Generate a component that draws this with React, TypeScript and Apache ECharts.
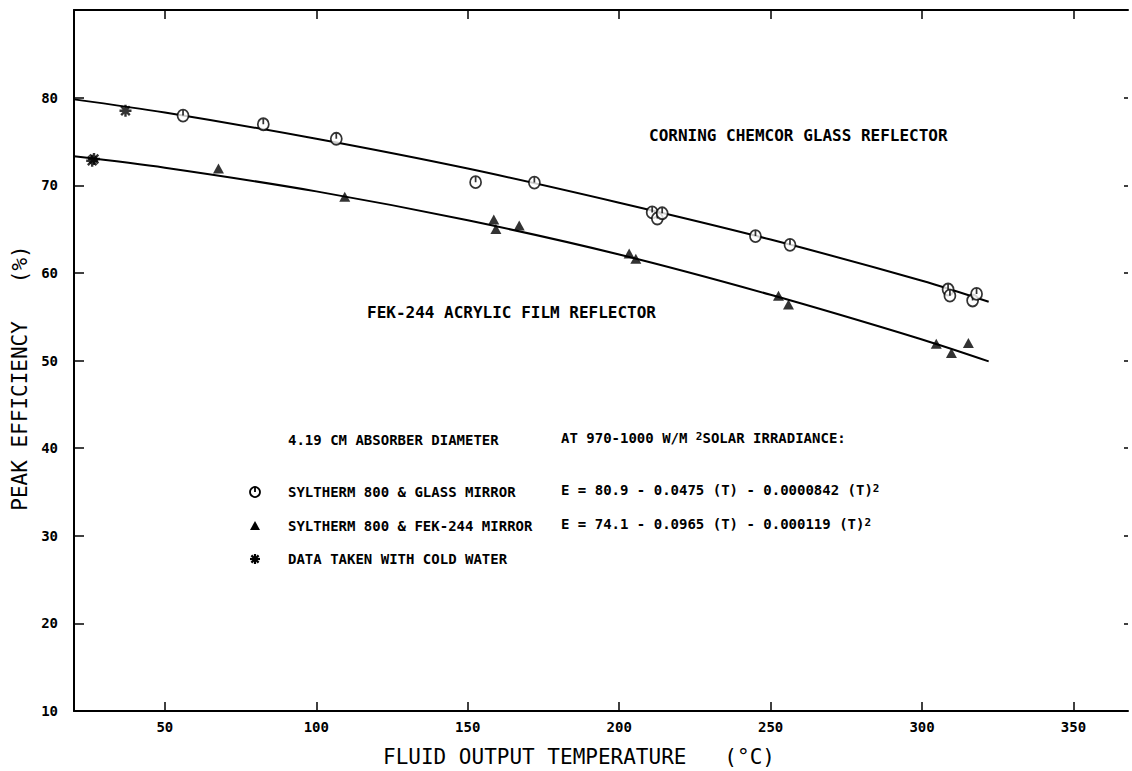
import React, { useEffect, useRef } from "react";
import * as echarts from "echarts";

// Tick values
const xTicks = [50, 100, 150, 200, 250, 300, 350];
const yTickLabels = [10, 20, 30, 40, 50, 60, 70, 80];
const yTickMarks = [20, 30, 40, 50, 60, 70, 80];

// Syltherm 800 & glass mirror (circles)
const glassT = [56, 82.5, 106.6, 152.6, 172, 210.9, 212.6, 214.2, 245, 256.4, 308.6, 309.2, 316.7, 318];
const glassE = [77.95, 76.96, 75.3, 70.35, 70.3, 66.9, 66.2, 66.8, 64.2, 63.2, 58.1, 57.4, 56.85, 57.6];

// Syltherm 800 & FEK-244 mirror (triangles)
const fekT = [67.7, 109.4, 158.6, 159.3, 167, 203.3, 205.5, 252.6, 255.9, 304.7, 309.7, 315.3];
const fekE = [71.9, 68.7, 66.1, 65.0, 65.4, 62.2, 61.6, 57.4, 56.4, 51.9, 50.85, 52.0];

// Data taken with cold water (asterisks)
const coldT = [37, 26, 26.6];
const coldE = [78.5, 72.8, 73.0];

// Fitted curves
const glassCurveT = [20, 50, 100, 150, 200, 250, 300, 322];
const glassCurveE = [79.8, 78.3, 75.3, 71.9, 68.0, 63.8, 59.1, 56.7];
const fekCurveT = [20, 50, 100, 150, 200, 250, 300, 322];
const fekCurveE = [73.3, 72.0, 69.3, 66.0, 62.1, 57.5, 52.4, 49.9];

const zip = (a: number[], b: number[]) => a.map((v, i) => [v, b[i]]);

export default function App() {
  const ref = useRef<HTMLDivElement>(null);
  useEffect(() => {
    const chart = echarts.init(ref.current!, null, { renderer: "svg" });
    const mono = "'DejaVu Sans Mono', 'Liberation Mono', monospace";
    const black = "#000";
    const small = { fontFamily: mono, fontWeight: "bold", fontSize: 14, fill: black };
    const rich = {
      n: { fontFamily: mono, fontWeight: "bold", fontSize: 14, lineHeight: 14, verticalAlign: "bottom", color: black },
      sup: { fontFamily: mono, fontWeight: "bold", fontSize: 11, lineHeight: 10, verticalAlign: "top", color: black },
    };
    const legX = 255;
    const rowY = [440, 492, 526, 559];
    const col2 = 561;
    chart.setOption({
      animation: false,
      backgroundColor: "#fff",
      grid: { left: 74, right: 4, top: 10, bottom: 60, containLabel: false },
      xAxis: [
        {
          type: "value", min: 20, max: 368, position: "bottom",
          axisLine: { show: true, onZero: false, lineStyle: { color: black, width: 2 } },
          axisTick: { show: true, inside: true, length: 9, customValues: xTicks, lineStyle: { color: black, width: 1.5 } },
          axisLabel: { customValues: xTicks, color: black, fontFamily: mono, fontWeight: "bold", fontSize: 14, margin: 9 },
          splitLine: { show: false },
        },
        {
          type: "value", min: 20, max: 368, position: "top",
          axisLine: { show: true, onZero: false, lineStyle: { color: black, width: 2 } },
          axisTick: { show: true, inside: true, length: 9, customValues: xTicks, lineStyle: { color: black, width: 1.5 } },
          axisLabel: { show: false },
          splitLine: { show: false },
        },
      ],
      yAxis: [
        {
          type: "value", min: 10, max: 90, interval: 10, position: "left",
          axisLine: { show: true, onZero: false, lineStyle: { color: black, width: 2 } },
          axisTick: { show: true, inside: true, length: 10, customValues: yTickMarks, lineStyle: { color: black, width: 1.5 } },
          axisLabel: { customValues: yTickLabels, color: black, fontFamily: mono, fontWeight: "bold", fontSize: 14, margin: 16 },
          splitLine: { show: false },
        },
        {
          type: "value", min: 10, max: 90, interval: 10, position: "right",
          axisLine: { show: false },
          axisTick: { show: true, inside: true, length: 4, customValues: yTickMarks, lineStyle: { color: black, width: 1.5 } },
          axisLabel: { show: false },
          splitLine: { show: false },
        },
      ],
      series: [
        {
          type: "line", data: zip(glassCurveT, glassCurveE), smooth: 0.3, symbol: "none",
          lineStyle: { color: black, width: 2 }, z: 2,
        },
        {
          type: "line", data: zip(fekCurveT, fekCurveE), smooth: 0.3, symbol: "none",
          lineStyle: { color: black, width: 2 }, z: 2,
        },
        {
          type: "scatter", data: zip(glassT, glassE),
          symbol: "path://M5,0 A5,5 0 1,1 -5,0 A5,5 0 1,1 5,0 Z M0,-5 L0,0",
          symbolSize: [11, 12],
          itemStyle: { color: "#fff", borderColor: black, borderWidth: 1.8 }, z: 3,
        },
        {
          type: "scatter", data: zip(fekT, fekE), symbol: "triangle", symbolSize: [11, 10],
          itemStyle: { color: black }, z: 3,
        },
        {
          type: "scatter", data: zip(coldT, coldE),
          symbol: "path://M-5,0L5,0M0,-5L0,5M-3.6,-3.6L3.6,3.6M-3.6,3.6L3.6,-3.6",
          symbolSize: 12,
          itemStyle: { color: black, borderColor: black, borderWidth: 2.4 }, z: 4,
        },
      ],
      graphic: [
        {
          type: "text", x: 649, y: 135,
          style: { text: "CORNING CHEMCOR GLASS REFLECTOR", fontFamily: mono, fontWeight: "bold", fontSize: 16, fill: black, textVerticalAlign: "middle" },
        },
        {
          type: "text", x: 367, y: 312,
          style: { text: "FEK-244 ACRYLIC FILM REFLECTOR", fontFamily: mono, fontWeight: "bold", fontSize: 16, fill: black, textVerticalAlign: "middle" },
        },
        {
          type: "text", x: 288, y: rowY[0],
          style: { ...small, text: "4.19 CM ABSORBER DIAMETER", textVerticalAlign: "middle" },
        },
        {
          type: "text", x: col2, y: rowY[0] - 9,
          style: { text: "{n|AT 970-1000 W/M }{sup|2}{n|SOLAR IRRADIANCE:}", rich, textVerticalAlign: "top" },
        },
        {
          type: "text", x: 288, y: rowY[1],
          style: { ...small, text: "SYLTHERM 800 & GLASS MIRROR", textVerticalAlign: "middle" },
        },
        {
          type: "text", x: col2, y: rowY[1] - 9,
          style: { text: "{n|E = 80.9 - 0.0475 (T) - 0.0000842 (T)}{sup|2}", rich, textVerticalAlign: "top" },
        },
        {
          type: "text", x: 288, y: rowY[2],
          style: { ...small, text: "SYLTHERM 800 & FEK-244 MIRROR", textVerticalAlign: "middle" },
        },
        {
          type: "text", x: col2, y: rowY[2] - 9,
          style: { text: "{n|E = 74.1 - 0.0965 (T) - 0.000119 (T)}{sup|2}", rich, textVerticalAlign: "top" },
        },
        {
          type: "text", x: 288, y: rowY[3],
          style: { ...small, text: "DATA TAKEN WITH COLD WATER", textVerticalAlign: "middle" },
        },
        // legend markers
        { type: "circle", shape: { cx: legX, cy: rowY[1], r: 5 }, style: { fill: "#fff", stroke: black, lineWidth: 1.8 } },
        { type: "line", shape: { x1: legX, y1: rowY[1] - 5, x2: legX, y2: rowY[1] }, style: { stroke: black, lineWidth: 1.8 } },
        { type: "polygon", shape: { points: [[legX - 5, rowY[2] + 4], [legX + 5, rowY[2] + 4], [legX, rowY[2] - 5]] }, style: { fill: black } },
        {
          type: "group",
          children: [
            { type: "line", shape: { x1: legX - 5, y1: rowY[3], x2: legX + 5, y2: rowY[3] }, style: { stroke: black, lineWidth: 2.2 } },
            { type: "line", shape: { x1: legX, y1: rowY[3] - 5, x2: legX, y2: rowY[3] + 5 }, style: { stroke: black, lineWidth: 2.2 } },
            { type: "line", shape: { x1: legX - 3.6, y1: rowY[3] - 3.6, x2: legX + 3.6, y2: rowY[3] + 3.6 }, style: { stroke: black, lineWidth: 2.2 } },
            { type: "line", shape: { x1: legX - 3.6, y1: rowY[3] + 3.6, x2: legX + 3.6, y2: rowY[3] - 3.6 }, style: { stroke: black, lineWidth: 2.2 } },
          ],
        },
        // axis titles
        {
          type: "text", x: 383, y: 757,
          style: { text: "FLUID OUTPUT TEMPERATURE   (°C)", fontFamily: mono, fontSize: 21, fill: black, textVerticalAlign: "middle" },
        },
        {
          type: "text", x: 20, y: 378, rotation: Math.PI / 2,
          style: { text: "PEAK EFFICIENCY   (%)", fontFamily: mono, fontSize: 21, fill: black, textAlign: "center", textVerticalAlign: "middle" },
        },
      ],
    });
    return () => chart.dispose();
  }, []);
  return (
    <div
      ref={ref}
      style={{ position: "fixed", left: 0, top: 0, width: 1132, height: 771, background: "#fff" }}
    />
  );
}
